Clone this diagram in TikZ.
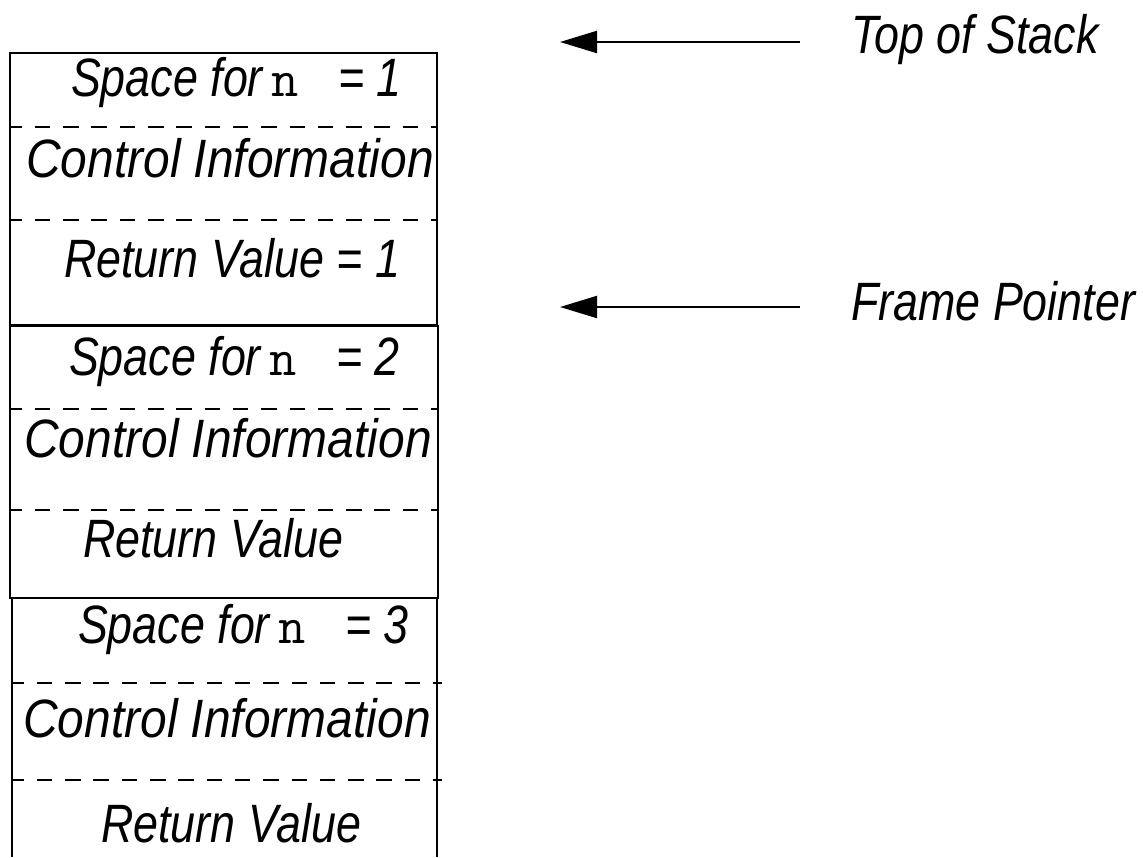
\documentclass[tikz,border=0pt]{standalone}
\usepackage{fontspec}
\usepackage{graphicx}
\newfontfamily\lblfont{Liberation Sans}[FakeStretch=0.83]
\usetikzlibrary{arrows.meta}
\newcommand{\wideci}[1]{\scalebox{1.07}[1]{#1}}
\begin{document}
\begin{tikzpicture}[x=1pt,y=-1pt,line width=2.2pt,
  lbl/.style={anchor=base west,inner sep=0pt,font=\lblfont\itshape\fontsize{54}{60}\selectfont},
  mono/.style={anchor=base west,inner sep=0pt,font=\ttfamily\fontsize{53}{60}\selectfont},
  sepline/.style={line width=2.4pt,dash pattern=on 15.5pt off 12.8pt,dash phase=3.5pt},
  ptr/.style={line width=2.2pt,-{Triangle[length=37pt,width=22pt]}}]
\useasboundingbox (0,0) rectangle (1146,857);
% frames
\draw (10,53) rectangle (437,325);
\draw (10,326) rectangle (438,598);
\draw (12,598) -- (12,857);
\draw (437,598) -- (437,857);
% separators
\draw[sepline] (10,127) -- (437,127);
\draw[sepline] (10,220) -- (437,220);
\draw[sepline] (10,409) -- (438,409);
\draw[sepline] (10,510) -- (438,510);
\draw[sepline] (12,683) -- (442,683);
\draw[sepline] (12,780) -- (442,780);
% frame 1
\node[lbl]  (s1a) at (70,96)  {Space for};
\node[mono] (s1n) at (270,96) {n};
\node[lbl]  (s1b) at (337,96) {= 1};
\node[lbl]  (c1)  at (25,177) {\wideci{Control Information}};
\node[lbl]  (r1)  at (63,277) {Return Value = 1};
% frame 2
\node[lbl]  (s2a) at (68,375) {Space for};
\node[mono] (s2n) at (268,375) {n};
\node[lbl]  (s2b) at (335,375) {= 2};
\node[lbl]  (c2)  at (23,457) {\wideci{Control Information}};
\node[lbl]  (r2)  at (82,557) {Return Value};
% frame 3
\node[lbl]  (s3a) at (77,643) {Space for};
\node[mono] (s3n) at (277,643) {n};
\node[lbl]  (s3b) at (344,643) {= 3};
\node[lbl]  (c3)  at (22,737) {\wideci{Control Information}};
\node[lbl]  (r3)  at (100,842) {Return Value};
% pointers
\node[lbl] (tos) at (850,53) {Top of Stack};
\node[lbl] (fp)  at (850,320) {Frame Pointer};
\coordinate (tosTail) at (800,42);
\coordinate (tosTip)  at (560,42);
\coordinate (fpTail)  at (800,307);
\coordinate (fpTip)   at (560,307);
\draw[ptr] (tosTail) -- (tosTip);
\draw[ptr] (fpTail) -- (fpTip);
\end{tikzpicture}
\end{document}
